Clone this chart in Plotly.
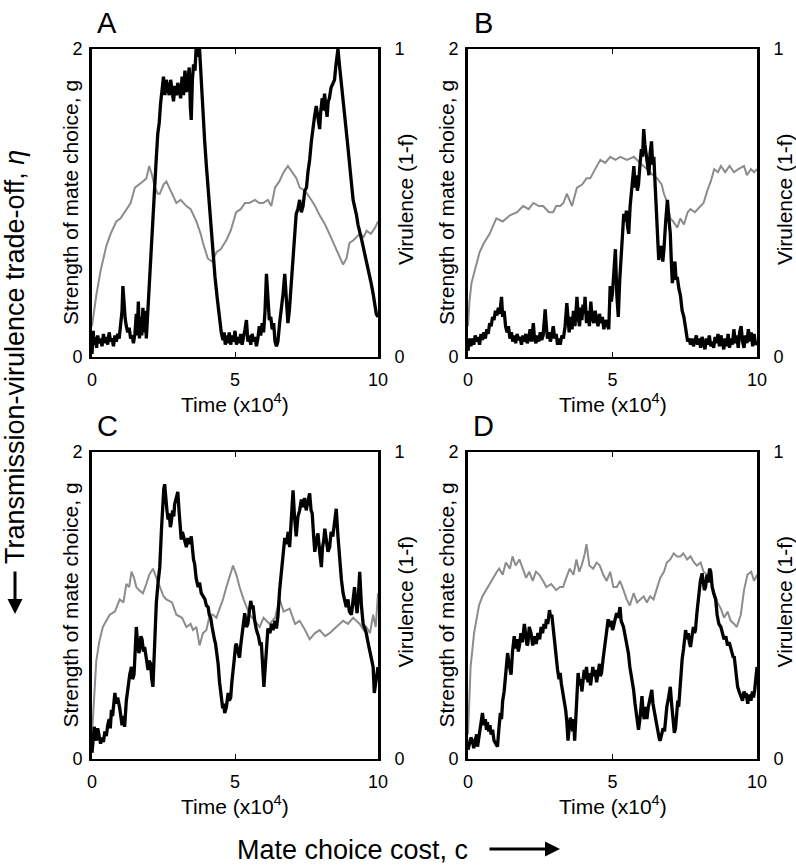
import plotly.graph_objects as go

W, H = 796, 867
FONT = "Liberation Sans, Arial, Helvetica, sans-serif"

# (time x10^4, strength of mate choice g)
a_g = [(0.00, 0.02), (0.04, 0.17), (0.08, 0.08), (0.12, 0.13), (0.16, 0.06), (0.20, 0.14),
       (0.25, 0.09), (0.30, 0.12), (0.35, 0.07), (0.40, 0.15), (0.45, 0.09), (0.50, 0.13),
       (0.55, 0.08), (0.60, 0.16), (0.65, 0.10), (0.70, 0.12), (0.75, 0.07), (0.80, 0.14),
       (0.85, 0.10), (0.90, 0.15), (0.95, 0.12), (1.00, 0.22), (1.05, 0.30), (1.08, 0.46),
       (1.12, 0.32), (1.16, 0.25), (1.20, 0.20), (1.25, 0.16), (1.30, 0.19), (1.35, 0.12),
       (1.40, 0.14), (1.45, 0.09), (1.50, 0.15), (1.55, 0.28), (1.58, 0.14), (1.62, 0.36),
       (1.66, 0.12), (1.70, 0.26), (1.74, 0.14), (1.78, 0.32), (1.82, 0.16), (1.86, 0.30),
       (1.90, 0.12), (1.95, 0.30), (2.00, 0.50), (2.05, 0.68), (2.10, 0.85), (2.15, 1.00),
       (2.20, 1.17), (2.25, 1.30), (2.30, 1.45), (2.35, 1.52), (2.40, 1.65), (2.45, 1.72),
       (2.50, 1.82), (2.55, 1.70), (2.60, 1.80), (2.65, 1.74), (2.70, 1.70), (2.75, 1.80),
       (2.80, 1.72), (2.85, 1.66), (2.90, 1.76), (2.95, 1.70), (3.00, 1.78), (3.05, 1.72),
       (3.10, 1.68), (3.15, 1.82), (3.20, 1.70), (3.25, 1.86), (3.30, 1.72), (3.35, 1.80),
       (3.40, 1.88), (3.44, 1.62), (3.47, 1.54), (3.51, 1.80), (3.55, 1.90), (3.60, 1.86),
       (3.64, 2.00), (3.68, 1.95), (3.72, 2.00), (3.76, 2.00), (3.82, 1.78), (3.88, 1.56),
       (3.94, 1.40), (4.00, 1.24), (4.08, 1.05), (4.15, 0.85), (4.23, 0.67), (4.30, 0.52),
       (4.38, 0.38), (4.45, 0.26), (4.52, 0.16), (4.58, 0.11), (4.62, 0.16), (4.66, 0.08),
       (4.70, 0.14), (4.75, 0.09), (4.80, 0.16), (4.85, 0.08), (4.90, 0.14), (4.95, 0.10),
       (5.00, 0.17), (5.05, 0.08), (5.10, 0.13), (5.15, 0.09), (5.20, 0.15), (5.25, 0.08),
       (5.30, 0.12), (5.35, 0.18), (5.40, 0.24), (5.45, 0.10), (5.50, 0.14), (5.55, 0.08),
       (5.60, 0.15), (5.65, 0.10), (5.70, 0.13), (5.75, 0.07), (5.80, 0.12), (5.85, 0.20),
       (5.90, 0.14), (5.95, 0.22), (6.00, 0.16), (6.05, 0.30), (6.10, 0.54), (6.15, 0.35),
       (6.20, 0.24), (6.25, 0.26), (6.30, 0.18), (6.35, 0.22), (6.40, 0.10), (6.45, 0.07),
       (6.50, 0.10), (6.56, 0.22), (6.62, 0.30), (6.68, 0.41), (6.74, 0.54), (6.80, 0.35),
       (6.85, 0.22), (6.90, 0.30), (6.97, 0.48), (7.03, 0.70), (7.09, 0.85), (7.14, 0.93),
       (7.20, 0.96), (7.26, 1.02), (7.32, 0.94), (7.38, 0.98), (7.44, 1.08), (7.50, 1.10),
       (7.55, 1.20), (7.61, 1.28), (7.67, 1.40), (7.73, 1.50), (7.78, 1.56), (7.84, 1.63),
       (7.90, 1.55), (7.96, 1.48), (8.00, 1.60), (8.05, 1.68), (8.09, 1.60), (8.13, 1.71),
       (8.18, 1.62), (8.22, 1.56), (8.26, 1.66), (8.30, 1.68), (8.36, 1.75), (8.43, 1.78),
       (8.48, 1.80), (8.52, 1.88), (8.56, 1.94), (8.60, 2.00), (8.65, 1.90), (8.70, 1.80),
       (8.78, 1.67), (8.84, 1.55), (8.90, 1.45), (8.95, 1.36), (9.00, 1.28), (9.06, 1.15),
       (9.13, 1.02), (9.19, 0.98), (9.25, 0.92), (9.30, 0.86), (9.36, 0.82), (9.43, 0.76),
       (9.50, 0.70), (9.55, 0.66), (9.60, 0.63), (9.65, 0.58), (9.70, 0.54), (9.76, 0.48),
       (9.83, 0.41), (9.88, 0.36), (9.94, 0.28), (10.00, 0.26)]

b_g = [(0.00, 0.04), (0.05, 0.12), (0.10, 0.07), (0.15, 0.12), (0.20, 0.08), (0.25, 0.14),
       (0.30, 0.10), (0.35, 0.13), (0.40, 0.08), (0.45, 0.15), (0.50, 0.11), (0.55, 0.16),
       (0.60, 0.12), (0.65, 0.18), (0.70, 0.15), (0.75, 0.22), (0.80, 0.20), (0.85, 0.26),
       (0.90, 0.24), (0.95, 0.30), (1.00, 0.27), (1.05, 0.32), (1.10, 0.28), (1.16, 0.39),
       (1.20, 0.26), (1.25, 0.30), (1.30, 0.20), (1.35, 0.16), (1.40, 0.20), (1.45, 0.12),
       (1.50, 0.16), (1.55, 0.10), (1.60, 0.14), (1.65, 0.09), (1.70, 0.15), (1.75, 0.11),
       (1.80, 0.13), (1.85, 0.08), (1.90, 0.14), (1.95, 0.10), (2.00, 0.15), (2.05, 0.09),
       (2.10, 0.12), (2.15, 0.18), (2.20, 0.10), (2.26, 0.22), (2.30, 0.12), (2.35, 0.09),
       (2.40, 0.14), (2.45, 0.10), (2.50, 0.16), (2.55, 0.11), (2.60, 0.14), (2.67, 0.31),
       (2.72, 0.18), (2.75, 0.12), (2.80, 0.16), (2.85, 0.10), (2.90, 0.14), (2.95, 0.20),
       (3.00, 0.12), (3.05, 0.15), (3.10, 0.08), (3.15, 0.12), (3.19, 0.08), (3.25, 0.14),
       (3.30, 0.12), (3.36, 0.20), (3.42, 0.35), (3.46, 0.22), (3.50, 0.16), (3.55, 0.26),
       (3.60, 0.18), (3.65, 0.30), (3.70, 0.20), (3.74, 0.30), (3.77, 0.39), (3.82, 0.25),
       (3.86, 0.20), (3.90, 0.32), (3.94, 0.24), (3.98, 0.34), (4.02, 0.28), (4.05, 0.39),
       (4.10, 0.22), (4.15, 0.30), (4.20, 0.20), (4.25, 0.36), (4.29, 0.26), (4.35, 0.22),
       (4.40, 0.30), (4.45, 0.24), (4.50, 0.20), (4.55, 0.28), (4.60, 0.22), (4.65, 0.26),
       (4.70, 0.18), (4.76, 0.24), (4.82, 0.20), (4.87, 0.18), (4.92, 0.46), (4.96, 0.36),
       (5.00, 0.42), (5.05, 0.55), (5.10, 0.70), (5.15, 0.40), (5.20, 0.26), (5.25, 0.50),
       (5.30, 0.65), (5.35, 0.80), (5.39, 0.93), (5.44, 0.88), (5.48, 0.95), (5.52, 0.85),
       (5.56, 0.80), (5.61, 0.98), (5.65, 1.05), (5.70, 1.15), (5.74, 1.24), (5.78, 1.10),
       (5.82, 1.18), (5.86, 1.08), (5.90, 1.12), (5.95, 1.25), (6.00, 1.35), (6.04, 1.30),
       (6.08, 1.48), (6.12, 1.38), (6.17, 1.30), (6.21, 1.22), (6.26, 1.18), (6.30, 1.32),
       (6.35, 1.40), (6.39, 1.25), (6.43, 1.30), (6.48, 1.10), (6.52, 0.95), (6.56, 0.80),
       (6.60, 0.63), (6.65, 0.70), (6.70, 0.72), (6.74, 0.62), (6.78, 0.70), (6.84, 0.88),
       (6.90, 1.02), (6.95, 0.90), (7.00, 0.80), (7.04, 0.60), (7.07, 0.48), (7.12, 0.56),
       (7.16, 0.62), (7.20, 0.50), (7.24, 0.52), (7.30, 0.44), (7.35, 0.40), (7.41, 0.30),
       (7.47, 0.26), (7.52, 0.20), (7.56, 0.15), (7.60, 0.10), (7.65, 0.12), (7.70, 0.08),
       (7.75, 0.12), (7.80, 0.07), (7.85, 0.10), (7.90, 0.14), (7.95, 0.08), (8.00, 0.12),
       (8.05, 0.06), (8.10, 0.13), (8.15, 0.09), (8.20, 0.05), (8.25, 0.12), (8.30, 0.08),
       (8.35, 0.14), (8.40, 0.07), (8.45, 0.10), (8.50, 0.06), (8.55, 0.13), (8.60, 0.09),
       (8.65, 0.15), (8.70, 0.07), (8.75, 0.14), (8.80, 0.09), (8.85, 0.05), (8.90, 0.12),
       (8.95, 0.07), (9.00, 0.15), (9.05, 0.06), (9.10, 0.12), (9.15, 0.08), (9.20, 0.18),
       (9.25, 0.09), (9.30, 0.14), (9.35, 0.06), (9.40, 0.16), (9.45, 0.20), (9.50, 0.10),
       (9.55, 0.06), (9.60, 0.14), (9.65, 0.09), (9.70, 0.18), (9.75, 0.10), (9.80, 0.16),
       (9.85, 0.07), (9.90, 0.15), (9.95, 0.08), (10.00, 0.10)]

c_g = [(0.00, 0.04), (0.04, 0.14), (0.08, 0.21), (0.12, 0.14), (0.15, 0.12), (0.20, 0.20),
       (0.25, 0.16), (0.30, 0.10), (0.35, 0.14), (0.40, 0.11), (0.45, 0.18), (0.50, 0.15),
       (0.55, 0.22), (0.60, 0.26), (0.64, 0.20), (0.68, 0.32), (0.72, 0.28), (0.76, 0.38),
       (0.80, 0.43), (0.85, 0.36), (0.90, 0.40), (0.97, 0.33), (1.01, 0.26), (1.05, 0.22),
       (1.10, 0.28), (1.14, 0.21), (1.20, 0.38), (1.26, 0.49), (1.32, 0.55), (1.38, 0.60),
       (1.42, 0.52), (1.47, 0.55), (1.51, 0.70), (1.55, 0.86), (1.60, 0.74), (1.64, 0.69),
       (1.67, 0.72), (1.71, 0.80), (1.75, 0.78), (1.80, 0.70), (1.84, 0.73), (1.90, 0.64),
       (1.96, 0.58), (2.00, 0.64), (2.05, 0.62), (2.09, 0.52), (2.13, 0.47), (2.18, 0.70),
       (2.25, 1.02), (2.31, 1.15), (2.37, 1.25), (2.43, 1.50), (2.48, 1.69), (2.51, 1.76),
       (2.54, 1.79), (2.58, 1.68), (2.62, 1.62), (2.66, 1.56), (2.70, 1.60), (2.74, 1.51),
       (2.77, 1.54), (2.82, 1.62), (2.86, 1.58), (2.89, 1.66), (2.94, 1.70), (3.00, 1.74),
       (3.05, 1.60), (3.09, 1.50), (3.12, 1.43), (3.16, 1.48), (3.20, 1.45), (3.25, 1.40),
       (3.30, 1.38), (3.35, 1.44), (3.40, 1.40), (3.47, 1.45), (3.52, 1.35), (3.55, 1.30),
       (3.59, 1.27), (3.64, 1.18), (3.71, 1.12), (3.76, 1.15), (3.82, 1.08), (3.88, 1.06),
       (3.95, 1.04), (4.00, 1.00), (4.06, 0.99), (4.10, 0.94), (4.15, 0.92), (4.20, 0.86),
       (4.23, 0.82), (4.28, 0.78), (4.32, 0.75), (4.36, 0.70), (4.41, 0.62), (4.46, 0.50),
       (4.52, 0.38), (4.57, 0.33), (4.60, 0.36), (4.64, 0.30), (4.70, 0.34), (4.76, 0.43),
       (4.80, 0.38), (4.85, 0.40), (4.89, 0.50), (4.93, 0.56), (4.98, 0.66), (5.02, 0.74),
       (5.05, 0.75), (5.10, 0.70), (5.16, 0.66), (5.20, 0.74), (5.25, 0.82), (5.30, 0.90),
       (5.34, 0.95), (5.40, 0.86), (5.45, 0.88), (5.50, 0.96), (5.55, 1.03), (5.60, 0.98),
       (5.63, 1.00), (5.69, 0.90), (5.75, 0.84), (5.82, 0.80), (5.88, 0.74), (5.92, 0.76),
       (5.97, 0.62), (6.01, 0.47), (6.04, 0.55), (6.09, 0.72), (6.15, 0.85), (6.22, 0.82),
       (6.28, 0.88), (6.33, 0.84), (6.40, 0.90), (6.45, 0.85), (6.50, 0.93), (6.56, 1.10),
       (6.62, 1.21), (6.68, 1.36), (6.74, 1.44), (6.80, 1.40), (6.86, 1.48), (6.91, 1.38),
       (6.96, 1.55), (7.00, 1.65), (7.03, 1.75), (7.08, 1.58), (7.14, 1.45), (7.20, 1.58),
       (7.26, 1.62), (7.32, 1.69), (7.37, 1.64), (7.43, 1.70), (7.49, 1.62), (7.55, 1.68),
       (7.61, 1.73), (7.66, 1.62), (7.70, 1.60), (7.75, 1.45), (7.79, 1.35), (7.84, 1.42),
       (7.90, 1.47), (7.96, 1.35), (8.02, 1.25), (8.06, 1.38), (8.10, 1.42), (8.14, 1.50),
       (8.20, 1.40), (8.25, 1.35), (8.31, 1.38), (8.36, 1.48), (8.42, 1.45), (8.48, 1.55),
       (8.54, 1.63), (8.60, 1.45), (8.66, 1.30), (8.72, 1.17), (8.78, 1.08), (8.84, 1.02),
       (8.89, 0.99), (8.95, 1.04), (9.00, 0.96), (9.07, 0.94), (9.12, 1.05), (9.18, 1.12),
       (9.22, 1.02), (9.27, 0.95), (9.32, 1.08), (9.36, 1.22), (9.42, 1.00), (9.48, 0.88),
       (9.54, 0.85), (9.59, 0.82), (9.65, 0.76), (9.71, 0.71), (9.77, 0.66), (9.83, 0.60),
       (9.87, 0.43), (9.90, 0.48), (9.94, 0.51), (10.00, 0.60)]

d_g = [(0.00, 0.06), (0.05, 0.10), (0.10, 0.14), (0.15, 0.12), (0.20, 0.07), (0.25, 0.12),
       (0.30, 0.16), (0.33, 0.08), (0.38, 0.14), (0.42, 0.20), (0.46, 0.24), (0.50, 0.30),
       (0.55, 0.22), (0.60, 0.26), (0.64, 0.19), (0.67, 0.24), (0.72, 0.18), (0.76, 0.22),
       (0.80, 0.16), (0.85, 0.19), (0.90, 0.12), (0.96, 0.10), (1.02, 0.08), (1.07, 0.20),
       (1.12, 0.30), (1.16, 0.26), (1.20, 0.38), (1.25, 0.44), (1.30, 0.56), (1.34, 0.62),
       (1.37, 0.69), (1.42, 0.62), (1.49, 0.55), (1.54, 0.70), (1.60, 0.80), (1.65, 0.72),
       (1.70, 0.78), (1.74, 0.70), (1.78, 0.74), (1.83, 0.82), (1.88, 0.76), (1.95, 0.88),
       (2.00, 0.80), (2.04, 0.74), (2.07, 0.75), (2.12, 0.86), (2.18, 0.82), (2.24, 0.74),
       (2.30, 0.80), (2.36, 0.75), (2.42, 0.82), (2.48, 0.78), (2.53, 0.86), (2.58, 0.82),
       (2.63, 0.88), (2.68, 0.85), (2.71, 0.91), (2.76, 0.88), (2.82, 0.97), (2.86, 0.92),
       (2.90, 0.94), (2.94, 0.86), (3.00, 0.78), (3.05, 0.65), (3.10, 0.58), (3.15, 0.52),
       (3.19, 0.56), (3.23, 0.49), (3.28, 0.44), (3.34, 0.38), (3.38, 0.32), (3.42, 0.24),
       (3.46, 0.12), (3.50, 0.20), (3.54, 0.27), (3.58, 0.24), (3.62, 0.18), (3.66, 0.26),
       (3.69, 0.12), (3.74, 0.30), (3.78, 0.45), (3.81, 0.56), (3.86, 0.48), (3.90, 0.52),
       (3.94, 0.44), (3.98, 0.50), (4.02, 0.58), (4.06, 0.52), (4.10, 0.60), (4.15, 0.50),
       (4.20, 0.56), (4.24, 0.48), (4.27, 0.52), (4.32, 0.60), (4.36, 0.54), (4.40, 0.58),
       (4.45, 0.50), (4.50, 0.56), (4.55, 0.62), (4.58, 0.54), (4.62, 0.56), (4.68, 0.66),
       (4.74, 0.73), (4.79, 0.82), (4.85, 0.91), (4.90, 0.86), (4.95, 0.90), (5.00, 0.84),
       (5.03, 0.86), (5.08, 0.90), (5.14, 0.95), (5.20, 0.92), (5.26, 0.99), (5.30, 0.90),
       (5.34, 0.88), (5.38, 0.86), (5.44, 0.80), (5.50, 0.74), (5.55, 0.69), (5.60, 0.60),
       (5.66, 0.54), (5.73, 0.45), (5.78, 0.36), (5.84, 0.28), (5.90, 0.19), (5.95, 0.26),
       (6.00, 0.35), (6.02, 0.41), (6.06, 0.30), (6.10, 0.26), (6.15, 0.34), (6.19, 0.26),
       (6.24, 0.34), (6.30, 0.40), (6.36, 0.45), (6.40, 0.36), (6.45, 0.30), (6.50, 0.26),
       (6.54, 0.21), (6.58, 0.17), (6.62, 0.13), (6.65, 0.12), (6.70, 0.16), (6.75, 0.20),
       (6.80, 0.18), (6.83, 0.26), (6.88, 0.34), (6.94, 0.40), (7.00, 0.47), (7.05, 0.35),
       (7.10, 0.24), (7.14, 0.17), (7.18, 0.20), (7.22, 0.28), (7.26, 0.38), (7.29, 0.34),
       (7.34, 0.48), (7.38, 0.58), (7.41, 0.65), (7.46, 0.72), (7.50, 0.80), (7.53, 0.84),
       (7.58, 0.78), (7.62, 0.82), (7.66, 0.76), (7.70, 0.73), (7.75, 0.80), (7.80, 0.86),
       (7.84, 0.82), (7.87, 0.84), (7.92, 0.95), (7.96, 1.02), (7.99, 1.08), (8.04, 1.16),
       (8.10, 1.21), (8.14, 1.14), (8.18, 1.10), (8.22, 1.12), (8.27, 1.20), (8.31, 1.15),
       (8.36, 1.24), (8.40, 1.22), (8.45, 1.12), (8.50, 1.08), (8.57, 1.04), (8.62, 0.94),
       (8.68, 0.88), (8.75, 0.86), (8.80, 0.82), (8.86, 0.78), (8.92, 0.80), (8.98, 0.74),
       (9.04, 0.76), (9.09, 0.73), (9.14, 0.70), (9.18, 0.66), (9.21, 0.67), (9.26, 0.58),
       (9.30, 0.52), (9.33, 0.47), (9.38, 0.44), (9.44, 0.41), (9.50, 0.38), (9.55, 0.44),
       (9.60, 0.40), (9.62, 0.43), (9.68, 0.36), (9.73, 0.42), (9.79, 0.38), (9.84, 0.44),
       (9.88, 0.40), (9.92, 0.45), (9.96, 0.52), (10.00, 0.60)]

# (time x10^4, virulence 1-f)
a_v = [(0.0, 0.10), (0.15, 0.20), (0.3, 0.28), (0.5, 0.36), (0.65, 0.40), (0.85, 0.44),
       (1.0, 0.45), (1.2, 0.48), (1.35, 0.50), (1.5, 0.55), (1.65, 0.56), (1.78, 0.57),
       (1.9, 0.58), (2.0, 0.62), (2.1, 0.59), (2.2, 0.55), (2.3, 0.53), (2.37, 0.53),
       (2.5, 0.56), (2.6, 0.57), (2.75, 0.54), (2.95, 0.50), (3.1, 0.51), (3.3, 0.49),
       (3.45, 0.48), (3.65, 0.44), (3.8, 0.40), (3.88, 0.37), (4.05, 0.32), (4.2, 0.31),
       (4.35, 0.34), (4.5, 0.35), (4.7, 0.38), (4.85, 0.41), (5.04, 0.47), (5.2, 0.48),
       (5.35, 0.50), (5.5, 0.50), (5.7, 0.51), (5.85, 0.50), (5.98, 0.50), (6.15, 0.51),
       (6.27, 0.49), (6.4, 0.55), (6.55, 0.57), (6.7, 0.60), (6.85, 0.62), (7.0, 0.60),
       (7.15, 0.58), (7.26, 0.55), (7.45, 0.54), (7.67, 0.51), (7.8, 0.49), (7.96, 0.46),
       (8.15, 0.43), (8.3, 0.40), (8.5, 0.36), (8.65, 0.33), (8.78, 0.30), (8.9, 0.32),
       (9.0, 0.37), (9.15, 0.38), (9.36, 0.40), (9.5, 0.39), (9.6, 0.41), (9.75, 0.40),
       (9.9, 0.42), (10.0, 0.44)]

b_v = [(0.0, 0.10), (0.05, 0.18), (0.12, 0.24), (0.25, 0.29), (0.4, 0.34), (0.55, 0.37),
       (0.75, 0.40), (0.98, 0.45), (1.2, 0.44), (1.45, 0.46), (1.7, 0.47), (1.91, 0.49),
       (2.1, 0.48), (2.26, 0.50), (2.45, 0.49), (2.6, 0.49), (2.8, 0.47), (2.95, 0.47),
       (3.05, 0.49), (3.19, 0.49), (3.3, 0.50), (3.42, 0.53), (3.6, 0.49), (3.77, 0.55),
       (3.95, 0.56), (4.1, 0.58), (4.23, 0.58), (4.4, 0.61), (4.58, 0.64), (4.75, 0.63),
       (4.92, 0.65), (5.1, 0.64), (5.27, 0.65), (5.5, 0.64), (5.74, 0.65), (5.95, 0.63),
       (6.2, 0.61), (6.4, 0.59), (6.55, 0.58), (6.7, 0.56), (6.78, 0.53), (6.9, 0.50),
       (7.0, 0.45), (7.1, 0.44), (7.24, 0.42), (7.35, 0.45), (7.47, 0.43), (7.6, 0.47),
       (7.7, 0.48), (7.85, 0.47), (8.05, 0.49), (8.15, 0.50), (8.28, 0.54), (8.4, 0.57),
       (8.52, 0.61), (8.65, 0.60), (8.75, 0.62), (8.9, 0.60), (9.05, 0.62), (9.2, 0.60),
       (9.35, 0.61), (9.55, 0.62), (9.65, 0.59), (9.79, 0.61), (9.9, 0.60), (10.0, 0.61)]

c_v = [(0.0, 0.08), (0.08, 0.22), (0.15, 0.32), (0.25, 0.38), (0.38, 0.43), (0.5, 0.45),
       (0.62, 0.47), (0.8, 0.48), (0.97, 0.52), (1.1, 0.51), (1.2, 0.57), (1.3, 0.56),
       (1.38, 0.61), (1.47, 0.59), (1.55, 0.56), (1.65, 0.55), (1.78, 0.54), (1.9, 0.57),
       (2.0, 0.60), (2.13, 0.62), (2.25, 0.59), (2.37, 0.56), (2.5, 0.53), (2.6, 0.52),
       (2.8, 0.51), (2.95, 0.47), (3.15, 0.46), (3.3, 0.43), (3.45, 0.44), (3.53, 0.42),
       (3.65, 0.43), (3.76, 0.37), (3.88, 0.41), (4.0, 0.42), (4.12, 0.47), (4.23, 0.47),
       (4.35, 0.46), (4.46, 0.49), (4.58, 0.52), (4.7, 0.56), (4.82, 0.60), (4.93, 0.63),
       (5.05, 0.60), (5.16, 0.56), (5.3, 0.52), (5.51, 0.47), (5.7, 0.45), (5.86, 0.43),
       (6.0, 0.46), (6.21, 0.44), (6.4, 0.46), (6.56, 0.52), (6.7, 0.48), (6.91, 0.49),
       (7.1, 0.44), (7.26, 0.45), (7.45, 0.42), (7.61, 0.39), (7.8, 0.41), (7.96, 0.42),
       (8.15, 0.40), (8.31, 0.41), (8.54, 0.43), (8.78, 0.45), (8.95, 0.44), (9.13, 0.46),
       (9.36, 0.44), (9.5, 0.42), (9.59, 0.43), (9.72, 0.41), (9.83, 0.47), (9.92, 0.43),
       (10.0, 0.54)]

d_v = [(0.0, 0.08), (0.09, 0.30), (0.21, 0.41), (0.38, 0.50), (0.5, 0.53), (0.62, 0.55),
       (0.75, 0.57), (0.85, 0.59), (1.0, 0.61), (1.08, 0.62), (1.2, 0.60), (1.31, 0.64),
       (1.45, 0.62), (1.54, 0.66), (1.65, 0.63), (1.78, 0.65), (1.9, 0.62), (2.01, 0.59),
       (2.12, 0.61), (2.24, 0.58), (2.35, 0.61), (2.47, 0.60), (2.6, 0.58), (2.71, 0.56),
       (2.88, 0.57), (3.05, 0.55), (3.18, 0.56), (3.29, 0.56), (3.4, 0.59), (3.52, 0.62),
       (3.65, 0.60), (3.75, 0.65), (3.85, 0.61), (3.93, 0.63), (4.02, 0.66), (4.1, 0.70),
       (4.2, 0.63), (4.33, 0.62), (4.45, 0.64), (4.56, 0.63), (4.68, 0.60), (4.8, 0.58),
       (4.92, 0.61), (5.03, 0.56), (5.15, 0.56), (5.26, 0.58), (5.38, 0.55), (5.49, 0.52),
       (5.6, 0.50), (5.73, 0.54), (5.85, 0.51), (5.96, 0.52), (6.08, 0.53), (6.19, 0.51),
       (6.3, 0.53), (6.42, 0.52), (6.55, 0.56), (6.65, 0.59), (6.78, 0.61), (6.88, 0.64),
       (7.0, 0.65), (7.12, 0.67), (7.23, 0.66), (7.35, 0.66), (7.45, 0.67), (7.58, 0.65),
       (7.7, 0.66), (7.82, 0.64), (7.92, 0.63), (8.05, 0.64), (8.15, 0.61), (8.28, 0.60),
       (8.4, 0.58), (8.52, 0.54), (8.63, 0.51), (8.75, 0.49), (8.86, 0.46), (8.98, 0.48),
       (9.09, 0.45), (9.21, 0.44), (9.3, 0.43), (9.44, 0.47), (9.55, 0.55), (9.67, 0.60),
       (9.8, 0.61), (9.9, 0.58), (10.0, 0.60)]

letters = ["A", "B", "C", "D"]
x_ticks = [0, 5, 10]
g_ticks = [0, 2]
v_ticks = [0, 1]

# plot boxes in pixels (left, right, top, bottom)
boxes = [(92, 378, 49, 357), (468, 757, 49, 357),
         (92, 378, 452, 759), (468, 757, 452, 759)]
series = [(a_g, a_v), (b_g, b_v), (c_g, c_v), (d_g, d_v)]


def fx(p):
    return p / W


def fy(p):
    return 1 - p / H


def label(text, x, y, size, angle=0):
    return dict(text=text, x=fx(x), y=fy(y), xref="paper", yref="paper",
                xanchor="center", yanchor="middle", textangle=angle,
                showarrow=False, font=dict(family=FONT, size=size, color="black"))


fig = go.Figure()
layout = {}
annotations = []
tickfont = dict(family=FONT, size=18, color="black")

for i, (box, (g, v)) in enumerate(zip(boxes, series)):
    x0, x1, y0, y1 = box
    xid = "x" if i == 0 else f"x{i + 1}"
    vid = "y" if i == 0 else f"y{2 * i + 1}"
    gid = f"y{2 * i + 2}"

    # gray virulence on the base (right) axis, black g on the overlay (left) axis
    fig.add_trace(go.Scatter(x=[p[0] for p in v], y=[p[1] for p in v],
                             xaxis=xid, yaxis=vid, mode="lines",
                             line=dict(color="#8c8c8c", width=2),
                             showlegend=False, hoverinfo="skip"))
    fig.add_trace(go.Scatter(x=[p[0] for p in g], y=[p[1] for p in g],
                             xaxis=xid, yaxis=gid, mode="lines",
                             line=dict(color="black", width=3.3),
                             showlegend=False, hoverinfo="skip"))

    layout["xaxis" if i == 0 else f"xaxis{i + 1}"] = dict(
        domain=[fx(x0), fx(x1)], range=[0, 10], anchor=vid, automargin=False,
        tickvals=x_ticks, ticks="inside", ticklen=5, tickwidth=1.2,
        tickcolor="black", mirror="ticks", showline=True, linewidth=1.5,
        linecolor="black", showgrid=False, zeroline=False,
        tickfont=tickfont, ticklabelstandoff=6)
    layout["yaxis" if i == 0 else f"yaxis{2 * i + 1}"] = dict(
        domain=[fy(y1), fy(y0)], range=[0, 1], anchor=xid, side="right",
        automargin=False, tickvals=v_ticks, ticks="", showline=True,
        linewidth=3, linecolor="black", showgrid=False, zeroline=False,
        tickfont=tickfont, ticklabelstandoff=10)
    layout[f"yaxis{2 * i + 2}"] = dict(
        overlaying=vid, range=[0, 2], anchor=xid, side="left",
        automargin=False, tickvals=g_ticks, ticks="", showline=True,
        linewidth=3, linecolor="black", showgrid=False, zeroline=False,
        tickfont=tickfont, ticklabelstandoff=3)

    cx = (x0 + x1) / 2
    cy = (y0 + y1) / 2
    annotations += [
        label(letters[i], x0 + 15, y0 - 26, 29),
        label("Strength of mate choice, g", x0 - 22, cy, 21, -90),
        label("Virulence (1-f)", x1 + 27, cy - 4, 21, -90),
        label("Time (x10<sup>4</sup>)", cx, y1 + 46, 21),
    ]

annotations += [
    label("Transmission-virulence trade-off, <i>η</i>", 15, 357, 27, -90),
    dict(text="", x=fx(15), y=fy(614), xref="paper", yref="paper",
         ax=0, ay=-44, showarrow=True, arrowhead=2, arrowsize=1,
         arrowwidth=3, arrowcolor="black"),
    label("Mate choice cost, c", 352, 850, 27),
    dict(text="", x=fx(560), y=fy(849), xref="paper", yref="paper",
         ax=-72, ay=0, showarrow=True, arrowhead=2, arrowsize=1,
         arrowwidth=3, arrowcolor="black"),
]

fig.update_layout(
    width=W, height=H, margin=dict(l=0, r=0, t=0, b=0),
    paper_bgcolor="white", plot_bgcolor="white",
    font=dict(family=FONT, color="black"),
    annotations=annotations, **layout)

# the page's default 8px body margin would shift the fixed-size figure
fig.write_html("out.html", config={"displayModeBar": False},
               post_script="document.body.style.margin = '0';")
